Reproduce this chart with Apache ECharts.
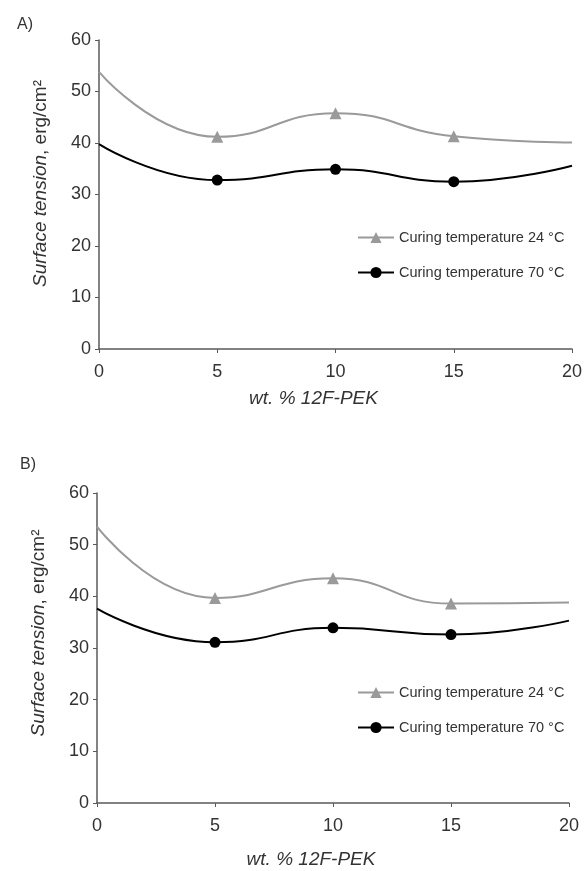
<!DOCTYPE html>
<html>
<head>
<meta charset="utf-8">
<script src="https://cdn.jsdelivr.net/npm/echarts@6/dist/echarts.min.js"></script>
<style>
  html, body { margin: 0; padding: 0; background: #fff; }
  #chart { width: 587px; height: 871px; }
</style>
</head>
<body>
<div id="chart"></div>
<script>
// dados
var xValues = [0, 5, 10, 15, 20];
var grayA = [53.8, 41.2, 45.8, 41.3, 40.1];
var blackA = [39.8, 32.8, 34.9, 32.5, 35.6];
var grayB = [53.5, 39.7, 43.5, 38.6, 38.8];
var blackB = [37.6, 31.1, 33.9, 32.6, 35.3];
var seriesNames = ['Curing temperature 24 °C', 'Curing temperature 70 °C'];
var panelLabels = ['A)', 'B)'];
var yMin = 0, yMax = 60, yStep = 10;
var xMin = 0, xMax = 20, xStep = 5;

var FONT = '"Liberation Sans", Arial, sans-serif';
var GRAY = '#9a9a9a';
var AXIS = '#5a5a5a';

function pairs(ys) {
    return xValues.map(function(x, i) { return [x, ys[i]]; });
}

// sem marcador nas pontas (0 e 20)
function markerSize(size) {
    return function(v, p) {
        return (p.dataIndex === 0 || p.dataIndex === xValues.length - 1) ? 0 : size;
    };
}

function xAxisFor(idx, gap) {
    return {
        type: 'value', gridIndex: idx, min: xMin, max: xMax, interval: xStep,
        splitLine: { show: false },
        axisLine: { lineStyle: { color: AXIS, width: 1.5 } },
        axisTick: { length: 4, lineStyle: { color: AXIS } },
        axisLabel: { fontFamily: FONT, fontSize: 18, color: '#333', margin: 14 },
        name: 'wt. % 12F-PEK', nameLocation: 'middle', nameGap: gap,
        nameTextStyle: { fontFamily: FONT, fontSize: 19, fontStyle: 'italic', color: '#333', padding: [0, 44, 0, 0] }
    };
}

function yAxisFor(idx, shift) {
    return {
        type: 'value', gridIndex: idx, min: yMin, max: yMax, interval: yStep,
        splitLine: { show: false },
        axisLine: { show: true, lineStyle: { color: AXIS, width: 1.5 } },
        axisTick: { show: true, length: 4, lineStyle: { color: AXIS } },
        axisLabel: { fontFamily: FONT, fontSize: 18, color: '#333', margin: 8 },
        name: '{i|Surface tension}{n|, erg/cm²}', nameLocation: 'middle', nameGap: 49,
        nameTextStyle: {
            color: '#333',
            padding: [0, 0, 0, shift],
            rich: {
                i: { fontFamily: FONT, fontSize: 19, fontStyle: 'italic', color: '#333' },
                n: { fontFamily: FONT, fontSize: 19, color: '#333' }
            }
        }
    };
}

function lineSeries(name, ys, idx, color, symbol, size) {
    return {
        name: name, type: 'line', xAxisIndex: idx, yAxisIndex: idx,
        data: pairs(ys), smooth: 0.5,
        symbol: symbol, symbolSize: markerSize(size),
        lineStyle: { color: color, width: 2 },
        itemStyle: { color: color },
        emphasis: { disabled: true }
    };
}

function legendFor(top) {
    return {
        orient: 'vertical', left: 357, top: top, padding: 0,
        itemWidth: 36, itemHeight: 14, itemGap: 20,
        textStyle: { fontFamily: FONT, fontSize: 14.5, color: '#333' },
        data: seriesNames
    };
}

var chart = echarts.init(document.getElementById('chart'));
var option = {
    backgroundColor: '#fff',
    animation: false,
    title: [
        { text: panelLabels[0], left: 12, top: 12, textStyle: { fontFamily: FONT, fontSize: 16, fontWeight: 'normal', color: '#333' } },
        { text: panelLabels[1], left: 15, top: 452, textStyle: { fontFamily: FONT, fontSize: 16, fontWeight: 'normal', color: '#333' } }
    ],
    legend: [legendFor(230), legendFor(685)],
    grid: [
        { left: 99, top: 40, width: 473, height: 309 },
        { left: 97, top: 493, width: 472, height: 310 }
    ],
    xAxis: [xAxisFor(0, 40), xAxisFor(1, 47)],
    yAxis: [yAxisFor(0, 22), yAxisFor(1, 30)],
    series: [
        lineSeries(seriesNames[0], grayA, 0, GRAY, 'triangle', 12),
        lineSeries(seriesNames[1], blackA, 0, '#000', 'circle', 11),
        lineSeries(seriesNames[0], grayB, 1, GRAY, 'triangle', 12),
        lineSeries(seriesNames[1], blackB, 1, '#000', 'circle', 11)
    ]
};
chart.setOption(option);
</script>
</body>
</html>
